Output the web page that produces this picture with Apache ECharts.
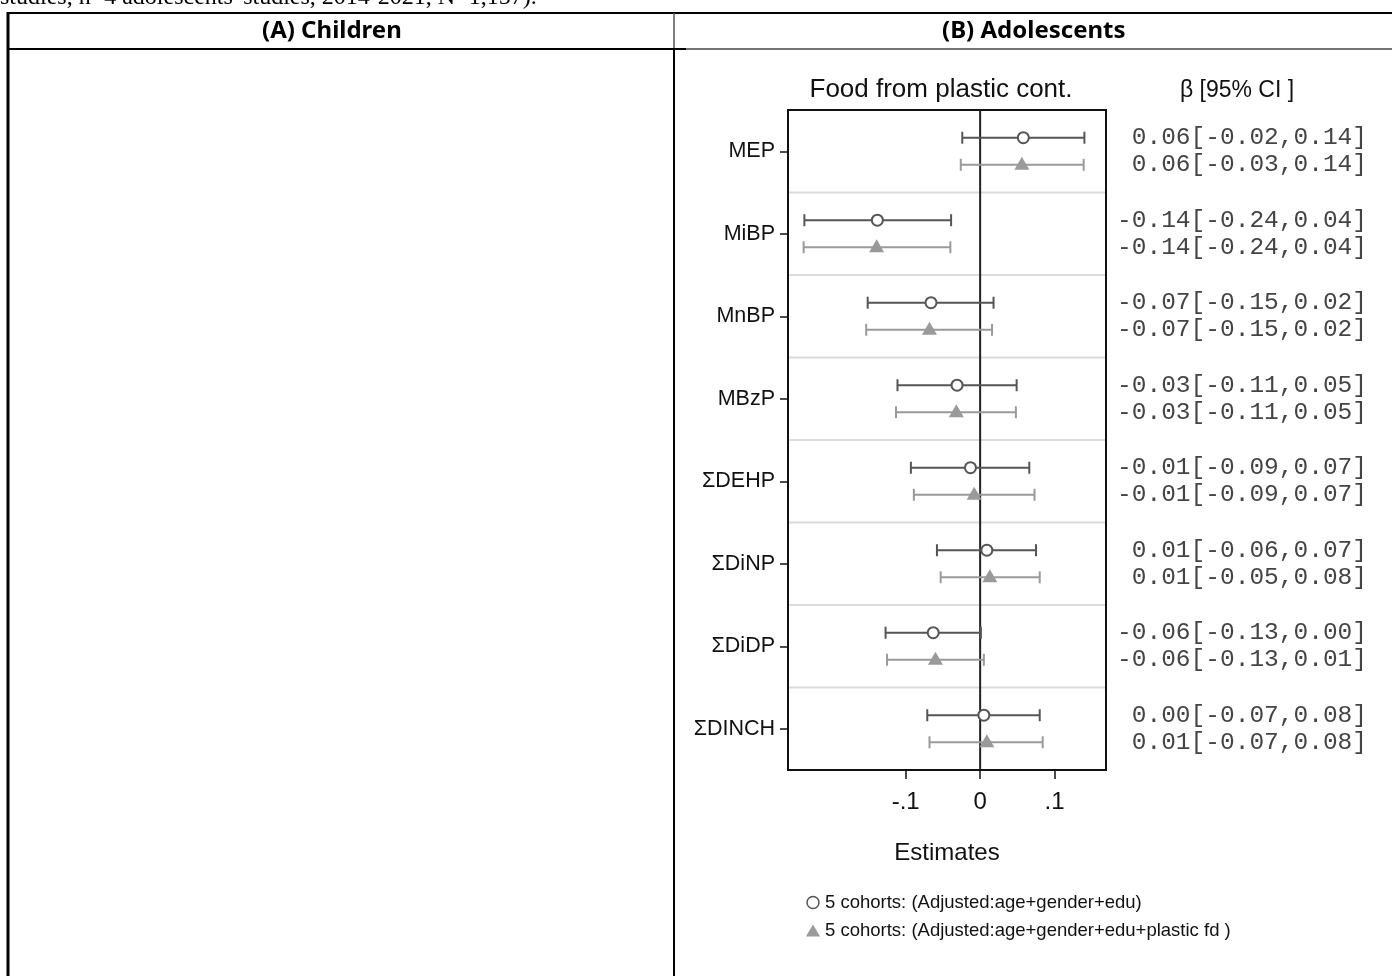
<!DOCTYPE html>
<html>
<head>
<meta charset="utf-8">
<script src="https://cdn.jsdelivr.net/npm/echarts@6/dist/echarts.min.js"></script>
<style>
html,body{margin:0;padding:0;background:#fff;}
#c{width:1392px;height:976px;}
</style>
</head>
<body>
<div id="c"></div>
<script>
// ---- data ----
var categories = ['MEP', 'MiBP', 'MnBP', 'MBzP', '\u03a3DEHP', '\u03a3DiNP', '\u03a3DiDP', '\u03a3DINCH'];
// series 1: 5 cohorts (Adjusted: age+gender+edu) [estimate, lower, upper]
var est1 = [0.058, -0.138, -0.066, -0.031, -0.013, 0.009, -0.063, 0.005];
var lo1  = [-0.024, -0.236, -0.151, -0.111, -0.093, -0.058, -0.127, -0.071];
var hi1  = [0.140, -0.039, 0.018, 0.049, 0.066, 0.075, 0.001, 0.080];
// series 2: 5 cohorts (Adjusted: age+gender+edu+plastic fd)
var est2 = [0.056, -0.139, -0.068, -0.032, -0.008, 0.013, -0.060, 0.009];
var lo2  = [-0.026, -0.237, -0.153, -0.113, -0.089, -0.053, -0.125, -0.068];
var hi2  = [0.139, -0.040, 0.016, 0.048, 0.073, 0.080, 0.005, 0.084];
// printed labels
var ciLabels1 = ['0.06[-0.02,0.14]', '-0.14[-0.24,0.04]', '-0.07[-0.15,0.02]', '-0.03[-0.11,0.05]',
                 '-0.01[-0.09,0.07]', '0.01[-0.06,0.07]', '-0.06[-0.13,0.00]', '0.00[-0.07,0.08]'];
var ciLabels2 = ['0.06[-0.03,0.14]', '-0.14[-0.24,0.04]', '-0.07[-0.15,0.02]', '-0.03[-0.11,0.05]',
                 '-0.01[-0.09,0.07]', '0.01[-0.05,0.08]', '-0.06[-0.13,0.01]', '0.01[-0.07,0.08]'];
var xTickValues = [-0.1, 0, 0.1];
var xTickLabels = ['-.1', '0', '.1'];
var seriesNames = ['5 cohorts: (Adjusted:age+gender+edu)', '5 cohorts: (Adjusted:age+gender+edu+plastic fd )'];

// ---- build ----
function rows(e, l, h) {
  return e.map(function (v, i) { return [v, l[i], h[i], i]; });
}
var SANS = '"Liberation Sans", Arial, sans-serif';

function makeRender(kind) {
  return function (params, api) {
    var idx = api.value(3);
    var band = api.size([0, 1])[1];
    var off = band * 0.164 * (kind === 0 ? -1 : 1);
    var c = api.coord([api.value(0), idx]);
    var pl = api.coord([api.value(1), idx]);
    var ph = api.coord([api.value(2), idx]);
    var y = c[1] + off;
    var color = kind === 0 ? '#555' : '#9a9a9a';
    var cap = 6;
    var st = { stroke: color, lineWidth: 2 };
    var children = [
      { type: 'line', shape: { x1: pl[0], y1: y, x2: ph[0], y2: y }, style: st },
      { type: 'line', shape: { x1: pl[0], y1: y - cap, x2: pl[0], y2: y + cap }, style: st },
      { type: 'line', shape: { x1: ph[0], y1: y - cap, x2: ph[0], y2: y + cap }, style: st }
    ];
    if (kind === 0) {
      children.push({ type: 'circle', shape: { cx: c[0], cy: y, r: 5.5 }, style: { fill: '#fff', stroke: color, lineWidth: 2 } });
    } else {
      children.push({ type: 'polygon', shape: { points: [[c[0], y - 8], [c[0] + 7.5, y + 5], [c[0] - 7.5, y + 5]] }, style: { fill: color } });
    }
    return { type: 'group', children: children };
  };
}

function renderSep(params, api) {
  var idx = api.value(1);
  var band = api.size([0, 1])[1];
  var cs = params.coordSys;
  var c = api.coord([0, idx]);
  var y = c[1] - band / 2;
  return { type: 'line', shape: { x1: cs.x + 1, y1: y, x2: cs.x + cs.width - 1, y2: y }, style: { stroke: '#dcdcdc', lineWidth: 2 } };
}

function renderZero(params, api) {
  var cs = params.coordSys;
  var c = api.coord([api.value(0), 0]);
  return { type: 'line', shape: { x1: c[0], y1: cs.y, x2: c[0], y2: cs.y + cs.height }, style: { stroke: '#222', lineWidth: 2 } };
}

var chart = echarts.init(document.getElementById('c'));
chart.setOption({
  animation: false,
  backgroundColor: '#fff',
  title: [
    { text: 'Food from plastic cont.', left: 941, top: 77, textAlign: 'center', padding: 0,
      textStyle: { fontFamily: SANS, fontSize: 26, fontWeight: 'normal', color: '#111' } },
    { text: '\u03b2 [95% CI ]', left: 1237, top: 79, textAlign: 'center', padding: 0,
      textStyle: { fontFamily: SANS, fontSize: 23, fontWeight: 'normal', color: '#111' } }
  ],
  grid: { left: 788, top: 110, width: 318, height: 660, show: true, borderColor: '#111', borderWidth: 2, backgroundColor: 'transparent' },
  xAxis: {
    type: 'value', min: -0.258, max: 0.169,
    name: 'Estimates', nameLocation: 'middle', nameGap: 71,
    nameTextStyle: { fontFamily: SANS, fontSize: 24, color: '#111' },
    axisLine: { show: false, onZero: false },
    splitLine: { show: false },
    axisTick: { show: true, length: 9, customValues: xTickValues, lineStyle: { color: '#111', width: 1.5 } },
    axisLabel: { customValues: xTickValues, margin: 20, fontFamily: SANS, fontSize: 24, color: '#111',
      formatter: function (v) { var i = xTickValues.indexOf(v); return i >= 0 ? xTickLabels[i] : ''; } }
  },
  yAxis: [
    {
      type: 'category', data: categories, inverse: true,
      axisLine: { show: false, onZero: false },
      axisTick: { show: true, alignWithLabel: true, length: 8, lineStyle: { color: '#111', width: 1.5 } },
      axisLabel: { margin: 13, fontFamily: SANS, fontSize: 21.5, color: '#111' },
      splitLine: { show: false }
    },
    {
      type: 'category', data: categories, inverse: true, position: 'right',
      axisLine: { show: false, onZero: false }, axisTick: { show: false }, splitLine: { show: false },
      axisLabel: {
        margin: 261, align: 'right', fontFamily: '"Liberation Mono", "Courier New", monospace',
        fontSize: 24.5, lineHeight: 27, color: '#444',
        formatter: function (v, i) { return ciLabels1[i] + '\n' + ciLabels2[i]; }
      }
    }
  ],
  legend: {
    orient: 'vertical', left: 801, top: 888, itemGap: 9, itemWidth: 14, itemHeight: 12,
    textStyle: { fontFamily: SANS, fontSize: 18.5, color: '#111' },
    data: [
      { name: seriesNames[0], icon: 'circle', itemStyle: { color: '#fff', borderColor: '#555', borderWidth: 1.5 } },
      { name: seriesNames[1], icon: 'triangle', itemStyle: { color: '#9a9a9a' } }
    ]
  },
  series: [
    {
      type: 'custom', name: 'sep', silent: true, z: 1,
      data: categories.slice(1).map(function (c, i) { return [0, i + 1]; }),
      encode: { x: 0, y: 1 },
      renderItem: renderSep
    },
    {
      type: 'custom', name: 'zero', silent: true, z: 2,
      data: [[0, 0]],
      encode: { x: 0, y: 1 },
      renderItem: renderZero
    },
    {
      type: 'custom', name: seriesNames[0], z: 3,
      data: rows(est1, lo1, hi1),
      encode: { x: [0, 1, 2], y: 3 },
      renderItem: makeRender(0),
      itemStyle: { color: '#555' }
    },
    {
      type: 'custom', name: seriesNames[1], z: 4,
      data: rows(est2, lo2, hi2),
      encode: { x: [0, 1, 2], y: 3 },
      renderItem: makeRender(1),
      itemStyle: { color: '#9a9a9a' }
    }
  ],
  graphic: [
    { type: 'text', left: 0, top: -14, silent: true,
      style: { text: "studies, n=4 adolescents' studies, 2014-2021, N=1,157).", fontFamily: '"Liberation Serif", "Times New Roman", serif', fontSize: 24, fill: '#000' } },
    { type: 'rect', silent: true, shape: { x: 0, y: 12, width: 1392, height: 2 }, style: { fill: '#fff' } },
    { type: 'line', silent: true, shape: { x1: 7, y1: 13, x2: 1392, y2: 13 }, style: { stroke: '#000', lineWidth: 2 } },
    { type: 'line', silent: true, shape: { x1: 7, y1: 49, x2: 686, y2: 49 }, style: { stroke: '#000', lineWidth: 2 } },
    { type: 'line', silent: true, shape: { x1: 686, y1: 49, x2: 1392, y2: 49 }, style: { stroke: '#444', lineWidth: 1.5 } },
    { type: 'line', silent: true, shape: { x1: 8, y1: 12, x2: 8, y2: 976 }, style: { stroke: '#000', lineWidth: 3 } },
    { type: 'line', silent: true, shape: { x1: 674, y1: 13, x2: 674, y2: 48 }, style: { stroke: '#555', lineWidth: 1.5 } },
    { type: 'line', silent: true, shape: { x1: 674, y1: 48, x2: 674, y2: 976 }, style: { stroke: '#000', lineWidth: 2 } },
    { type: 'text', silent: true, top: 19, left: 262,
      style: { text: '(A) Children', fontFamily: '"Noto Sans", "Open Sans", sans-serif', fontWeight: 'bold', fontSize: 24, fill: '#000' } },
    { type: 'text', silent: true, top: 19, left: 942,
      style: { text: '(B) Adolescents', fontFamily: '"Noto Sans", "Open Sans", sans-serif', fontWeight: 'bold', fontSize: 24, fill: '#000' } }
  ]
});
</script>
</body>
</html>
